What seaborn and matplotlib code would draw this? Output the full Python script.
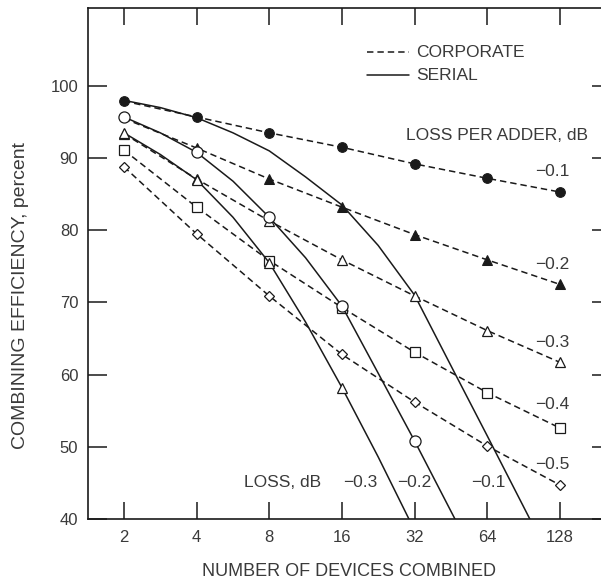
import matplotlib
matplotlib.use("Agg")
import matplotlib.pyplot as plt
import seaborn as sns

# ─────────────────────────────────────────────
# Data
# ─────────────────────────────────────────────

devices = [2, 4, 8, 16, 32, 64, 128]

# corporate combiners, efficiency in percent, one list per loss per adder
corp_01 = [97.9, 95.7, 93.5, 91.5, 89.2, 87.2, 85.3]
corp_02 = [95.5, 91.4, 87.1, 83.2, 79.4, 75.9, 72.5]
corp_03 = [93.4, 87.1, 81.3, 75.9, 70.9, 66.1, 61.7]
corp_04 = [91.1, 83.2, 75.8, 69.3, 63.1, 57.5, 52.6]
corp_05 = [88.8, 79.5, 70.9, 62.8, 56.2, 50.1, 44.7]

# serial combiners (read at every half octave until the curve leaves the plot)
serial_01_n = [2, 2.83, 4, 5.66, 8, 11.3, 16, 22.6, 32, 45.3, 64, 96]
serial_01 = [98.0, 97.0, 95.6, 93.5, 91.0, 87.4, 83.5, 77.9, 71.0, 61.2, 51.5, 40.0]
serial_02_n = [2, 2.83, 4, 5.66, 8, 11.3, 16, 22.6, 32, 47]
serial_02 = [95.7, 93.5, 90.8, 86.8, 81.8, 76.2, 69.5, 60.2, 50.8, 40.0]
serial_03_n = [2, 2.83, 4, 5.66, 8, 11.3, 16, 22.6, 30.3]
serial_03 = [93.5, 90.5, 87.0, 81.8, 75.5, 67.3, 58.2, 48.6, 40.0]

corp_labels = ["\u22120.1", "\u22120.2", "\u22120.3", "\u22120.4", "\u22120.5"]
serial_labels = ["\u22120.3", "\u22120.2", "\u22120.1"]
y_ticks = [40, 50, 60, 70, 80, 90, 100]

# ─────────────────────────────────────────────
# Style
# ─────────────────────────────────────────────

INK = "#1a1a1a"
TXT = "#3a3a3a"
LW = 1.1
DASH = (0, (4.2, 2.6))

sns.set_style("ticks")
plt.rcParams["font.family"] = ["Liberation Sans", "DejaVu Sans"]
plt.rcParams.update({
    "axes.edgecolor": INK, "axes.linewidth": 1.2,
    "xtick.labelcolor": TXT, "ytick.labelcolor": TXT,
})

fig = plt.figure(figsize=(6.01, 5.83), dpi=100)
ax = fig.add_axes([0.1464, 0.1098, 0.870, 0.8765])
ax.set_xscale("log", base=2)

line_kw = dict(color=INK, linewidth=LW, legend=False, estimator=None, ax=ax)

# corporate curves (dashed)
sns.lineplot(x=devices, y=corp_01, linestyle=DASH, marker="o", markersize=7,
             markerfacecolor=INK, markeredgecolor=INK, zorder=3, **line_kw)
sns.lineplot(x=devices, y=corp_02, linestyle=DASH, marker="^", markersize=7.5,
             markerfacecolor=INK, markeredgecolor=INK, markevery=list(range(1, 7)),
             zorder=3, **line_kw)
sns.lineplot(x=devices, y=corp_03, linestyle=DASH, marker="^", markersize=7.5,
             markerfacecolor="white", markeredgecolor=INK, markeredgewidth=0.9,
             zorder=3, **line_kw)
sns.lineplot(x=devices, y=corp_04, linestyle=DASH, marker="s", markersize=6.5,
             markerfacecolor="white", markeredgecolor=INK, markeredgewidth=0.9,
             zorder=3, **line_kw)
sns.lineplot(x=devices, y=corp_05, linestyle=DASH, marker="D", markersize=5.5,
             markerfacecolor="white", markeredgecolor=INK, markeredgewidth=0.9,
             zorder=3, **line_kw)

# serial curves (solid)
sns.lineplot(x=serial_01_n, y=serial_01, linestyle="-", zorder=2, **line_kw)
sns.lineplot(x=serial_02_n, y=serial_02, linestyle="-", marker="o", markersize=8,
             markerfacecolor="white", markeredgecolor=INK, markeredgewidth=0.9,
             markevery=[0, 2, 4, 6, 8], zorder=4, **line_kw)
sns.lineplot(x=serial_03_n, y=serial_03, linestyle="-", marker="^", markersize=7.5,
             markerfacecolor="white", markeredgecolor=INK, markeredgewidth=0.9,
             markevery=[0, 2, 4, 6], zorder=4, **line_kw)

# ─────────────────────────────────────────────
# Axes
# ─────────────────────────────────────────────

ax.set_xlim(2 ** 0.505, 2 ** 7.70)
ax.set_ylim(40, 110.8)
ax.set_xticks(devices)
ax.set_xticklabels([str(n) for n in devices])
ax.set_yticks(y_ticks)
ax.set_yticklabels([str(v) for v in y_ticks])
ax.minorticks_off()

ax.tick_params(axis="x", which="major", direction="in", length=0,
               labelsize=12, pad=8)
ax.tick_params(axis="y", which="major", direction="in", length=0,
               labelsize=12, pad=7)

# inward tick marks on all four sides
xt = ax.get_xaxis_transform()
yt = ax.get_yaxis_transform()
ax.vlines(devices, 0, 0.034, transform=xt, colors=INK, linewidth=1.1, clip_on=False, zorder=5)
ax.vlines(devices, 0.966, 1, transform=xt, colors=INK, linewidth=1.1, clip_on=False, zorder=5)
ax.hlines(y_ticks, 0, 0.036, transform=yt, colors=INK, linewidth=1.1, clip_on=False, zorder=5)
ax.hlines(y_ticks, 0.964, 1, transform=yt, colors=INK, linewidth=1.1, clip_on=False, zorder=5)

ax.set_xlabel("NUMBER OF DEVICES COMBINED", fontsize=13, color=TXT, labelpad=13)
ax.set_ylabel("COMBINING EFFICIENCY, percent", fontsize=14, color=TXT)
ax.yaxis.set_label_coords(-0.113, 0.438)

# ─────────────────────────────────────────────
# Annotations
# ─────────────────────────────────────────────

text_kw = dict(fontsize=12.5, color=TXT, transform=ax.transData)

# legend drawn by hand, like the original figure
ax.plot([2 ** 4.35, 2 ** 4.92], [104.7, 104.7], color=INK, linewidth=LW, linestyle=DASH)
ax.plot([2 ** 4.35, 2 ** 4.92], [101.5, 101.5], color=INK, linewidth=LW, linestyle="-")
ax.text(2 ** 5.02, 104.7, "CORPORATE", va="center", ha="left", **text_kw)
ax.text(2 ** 5.02, 101.5, "SERIAL", va="center", ha="left", **text_kw)

ax.text(2 ** 7.385, 93.2, "LOSS PER ADDER, dB", va="center", ha="right", **text_kw)
for label, y in zip(corp_labels, [88.1, 75.2, 64.5, 55.8, 47.5]):
    ax.text(2 ** 6.90, y, label, va="center", ha="center", **text_kw)

ax.text(2 ** 3.72, 45.0, "LOSS, dB", va="center", ha="right", **text_kw)
for label, x in zip(serial_labels, [2 ** 4.25, 2 ** 5.0, 2 ** 6.01]):
    ax.text(x, 45.0, label, va="center", ha="center", **text_kw)

fig.savefig("out.png", dpi=100)
